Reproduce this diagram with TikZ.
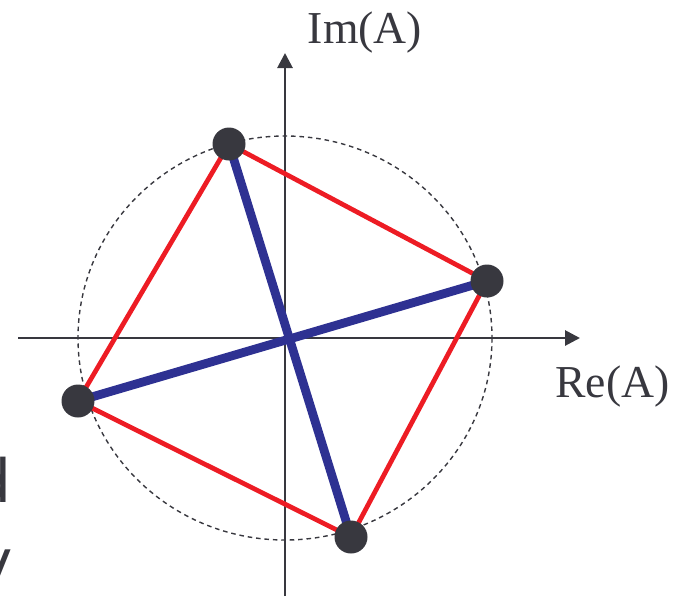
\documentclass[tikz,border=0pt]{standalone}
\usepackage{fontspec}
\setmainfont{Liberation Serif}
\newfontfamily\handfont{DejaVu Sans}
\usetikzlibrary{arrows.meta}
\definecolor{phasorblue}{HTML}{2E3192}
\definecolor{phasorred}{HTML}{ED1C24}
\definecolor{dotgray}{HTML}{38383F}
\tikzset{axisarrow/.style={-{Triangle[width=0.3cm,length=0.3cm]}, line width=1.6pt, draw=dotgray},
  phasordot/.style={circle, fill=dotgray, inner sep=0pt, minimum size=0.66cm},
  diag/.style={draw=phasorblue, line width=5pt},
  side/.style={draw=phasorred, line width=2.7pt},
  axislabel/.style={text=dotgray, font=\fontsize{26}{30}\selectfont, inner sep=0pt}}

\begin{document}
\begin{tikzpicture}[x=0.02cm, y=-0.02cm]
\useasboundingbox (0,0) rectangle (675,596);
\coordinate (o) at (285,338);
\coordinate (top) at (229,144);
\coordinate (rgt) at (487,281);
\coordinate (bot) at (351,537);
\coordinate (lft) at (78,401);
% circle and axes
\draw[dotgray, line width=0.8pt, dash pattern=on 2.6pt off 2.2pt] (o) ellipse [x radius=207, y radius=202];
\coordinate (xs) at (18,338);
\coordinate (xe) at (580,338);
\coordinate (ys) at (285,596);
\coordinate (ye) at (285,53);
\draw[axisarrow] (xs) -- (xe);
\draw[axisarrow] (ys) -- (ye);
\node[axislabel, anchor=base] (im) at (365,43) {Im(A)};
\node[axislabel, anchor=base west] (re) at (555,397) {Re(A)};
% quadrilateral and diagonals
\draw[side] (top) -- (rgt) -- (bot) -- (lft) -- cycle;
\draw[diag] (top) -- (bot);
\draw[diag] (lft) -- (rgt);
\foreach \p in {top,rgt,bot,lft}
  \node[phasordot] (d\p) at (\p) {};
% cut-off words at the left edge
\node[anchor=base east, inner sep=0pt, text=dotgray, font=\handfont\fontsize{34}{40}\selectfont] (wd) at (12,502) {d};
\node[anchor=base east, inner sep=0pt, text=dotgray, font=\handfont\fontsize{34}{40}\selectfont] (wy) at (13,582) {y};
\end{tikzpicture}
\end{document}
